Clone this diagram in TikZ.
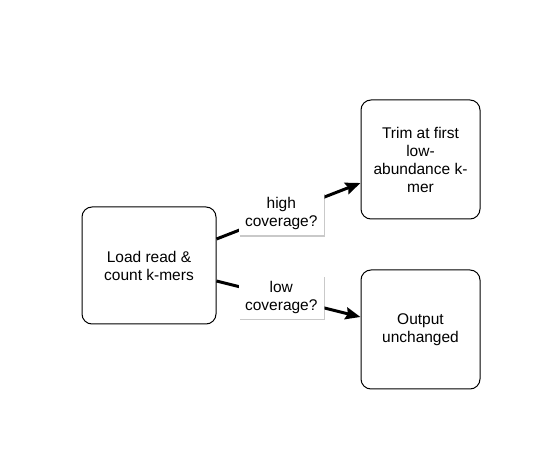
\documentclass[tikz,border=0pt]{standalone}
\usepackage{fontspec}
\setmainfont{Liberation Sans}
\usetikzlibrary{arrows.meta,shadows,calc}
\begin{document}
\begin{tikzpicture}[x=1pt,y=-1pt,
  procbox/.style={draw=black,line width=1pt,rounded corners=10pt,fill=white,
    align=center,inner sep=0pt,font=\fontsize{15.5}{18}\selectfont},
  lbl/.style={fill=white,align=center,inner sep=0pt,minimum width=85pt,minimum height=43pt,
    font=\fontsize{15.5}{18}\selectfont,
    drop shadow={shadow xshift=1.5pt,shadow yshift=-1.5pt,fill=black!35,opacity=0.6}},
  arr/.style={line width=3pt,-{Stealth[length=15pt,width=12pt,inset=2pt]}}]
\useasboundingbox[fill=white] (0,0) rectangle (552,462);
\node[procbox,minimum width=134pt,minimum height=117pt] (load) at (149,265.5) {Load read \&\\count k-mers};
\node[procbox,minimum width=119pt,minimum height=119pt] (trim) at (420.5,159.5) {Trim at first\\low-\\abundance k-\\mer};
\node[procbox,minimum width=119pt,minimum height=119pt] (out) at (420.5,329.5) {Output\\unchanged};
\draw[arr] ($(load.east)+(0,-26.5)$) -- ($(trim.west)+(0,23.5)$)
  node[lbl,pos=0.45] (hi) {high\\coverage?};
\draw[arr] ($(load.east)+(0,15.5)$) -- ($(out.west)+(0,-12.5)$)
  node[lbl,pos=0.45] (lo) {low\\coverage?};
\end{tikzpicture}
\end{document}
